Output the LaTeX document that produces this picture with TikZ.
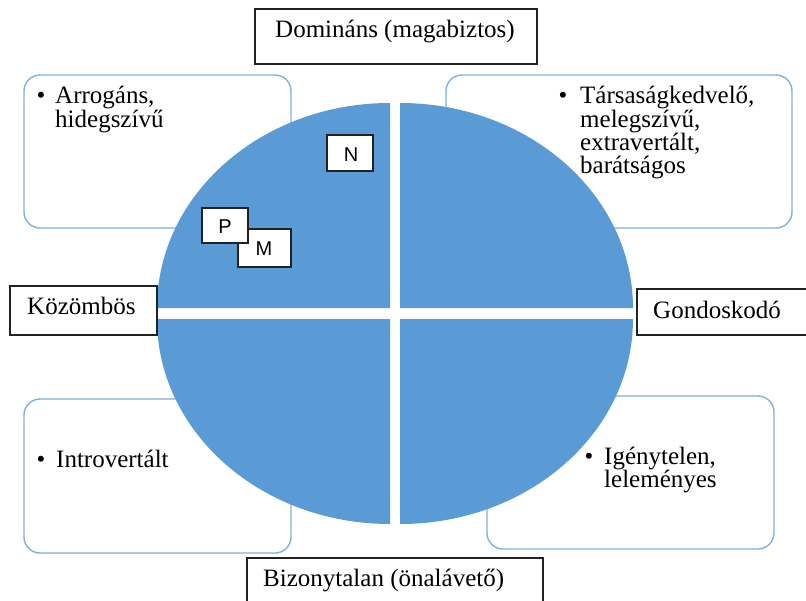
\documentclass[tikz,border=0pt]{standalone}
\usepackage{fontspec}
\setmainfont{Liberation Serif}
\newfontfamily\smallsans{Liberation Sans}
\definecolor{quad}{HTML}{5B9BD5}
\definecolor{rbord}{HTML}{7FB0E0}
\definecolor{lbord}{HTML}{222222}
\begin{document}
\begin{tikzpicture}[x=1pt,y=-1pt,
  rbox/.style={draw=rbord,line width=1.4pt,fill=white,rounded corners=16pt},
  lbox/.style={draw=lbord,line width=1.4pt,fill=white},
  sbox/.style={draw=lbord,line width=1.2pt,fill=white},
  txt/.style={font=\fontsize{25}{25}\selectfont,inner sep=0pt,anchor=base west},
  bul/.style={font=\fontsize{25}{25}\selectfont,inner sep=0pt,anchor=base},
  ltr/.style={font=\smallsans\fontsize{20}{20}\selectfont,inner sep=0pt}]
\clip (0,0) rectangle (806,600);
\fill[white] (0,0) rectangle (806,600);
% rounded boxes
\draw[rbox] (24,75) rectangle (291,228);
\draw[rbox] (446,75) rectangle (792,228);
\draw[rbox] (24,399) rectangle (291,553);
\draw[rbox] (487,396) rectangle (774,549);
% quadrants
\fill[quad] (390,308) -- ++(-233,0) arc[start angle=180,end angle=90,x radius=233pt,y radius=205pt] -- cycle;
\fill[quad] (400,308) -- ++(0,-205) arc[start angle=90,end angle=0,x radius=233pt,y radius=205pt] -- cycle;
\fill[quad] (390,319) -- ++(-233,0) arc[start angle=180,end angle=270,x radius=233pt,y radius=205pt] -- cycle;
\fill[quad] (400,319) -- ++(233,0) arc[start angle=0,end angle=-90,x radius=233pt,y radius=205pt] -- cycle;
% label boxes
\draw[lbox] (255,9) rectangle (537,64);
\node[txt] (dom) at (275,37) {Domináns (magabiztos)};
\draw[lbox] (10,286) rectangle (157,335);
\node[txt] (koz) at (27,314) {Közömbös};
\draw[lbox] (637,289) rectangle (812,335);
\node[txt] (gon) at (653,318) {Gondoskodó};
\draw[lbox] (247,558) rectangle (543,610);
\node[txt] (biz) at (263,586) {Bizonytalan (önalávető)};
% box texts
\node[bul] (b1) at (41,103) {•};
\node[txt] (t1a) at (55,103) {Arrogáns,};
\node[txt] (t1b) at (55,127) {hidegszívű};
\node[bul] (b2) at (563,103) {•};
\node[txt] (t2a) at (580,103) {Társaságkedvelő,};
\node[txt] (t2b) at (580,127) {melegszívű,};
\node[txt] (t2c) at (580,150) {extravertált,};
\node[txt] (t2d) at (580,173) {barátságos};
\node[bul] (b3) at (41,467) {•};
\node[txt] (t3a) at (56,467) {Introvertált};
\node[bul] (b4) at (589,464) {•};
\node[txt] (t4a) at (604,464) {Igénytelen,};
\node[txt] (t4b) at (604,487) {leleményes};
% small letter boxes
\draw[sbox] (327,135) rectangle (373,171);
\node[ltr] (n) at (351,155) {N};
\draw[sbox] (238,229) rectangle (291,267);
\node[ltr] (m) at (264,249) {M};
\draw[sbox] (202,208) rectangle (248,243);
\node[ltr] (p) at (225,227) {P};
\end{tikzpicture}
\end{document}
